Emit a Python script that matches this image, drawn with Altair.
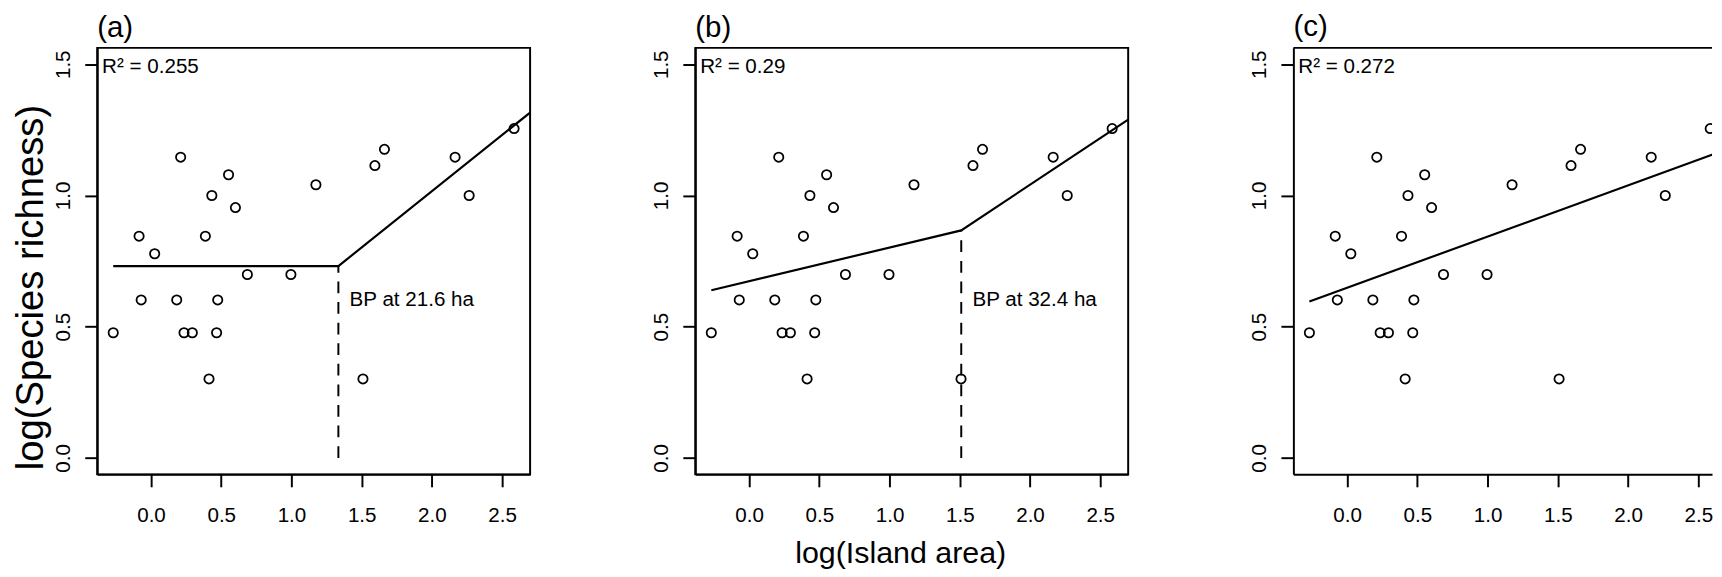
import altair as alt
import pandas as pd

# ---- data ----
log_area = [-0.269, -0.085, -0.070, 0.026, 0.183, 0.211, 0.235, 0.294, 0.387, 0.413,
            0.433, 0.467, 0.475, 0.552, 0.601, 0.686, 0.996, 1.174, 1.509, 1.594,
            1.662, 2.165, 2.265, 2.585]
log_rich = [0.477, 0.845, 0.602, 0.778, 0.602, 1.146, 0.477, 0.477, 0.845, 0.301,
            1.000, 0.477, 0.602, 1.079, 0.954, 0.699, 0.699, 1.041, 0.301, 1.114,
            1.176, 1.146, 1.000, 1.255]

panel_labels = ["(a)", "(b)", "(c)"]
r2_labels = ["R² = 0.255", "R² = 0.29", "R² = 0.272"]

fit_a_x = [-0.269, 1.334, 2.699]
fit_a_y = [0.731, 0.731, 1.316]
fit_b_x = [-0.269, 1.5105, 2.699]
fit_b_y = [0.639, 0.867, 1.289]
fit_c_x = [-0.269, 2.699]
fit_c_y = [0.596, 1.175]

bp_x = [1.334, 1.5105]
bp_fit_y = [0.731, 0.867]
bp_labels = ["BP at 21.6 ha", "BP at 32.4 ha"]
bp_label_x = [1.414, 1.5905]
bp_label_y = [0.6, 0.6]

x_ticks = [0.0, 0.5, 1.0, 1.5, 2.0, 2.5]
y_ticks = [0.0, 0.5, 1.0, 1.5]
x_domain = [-0.383, 2.699]
x_domain_c = [-0.383, 2.598]
y_domain = [-0.0625, 1.5625]

FONT = "Liberation Sans"
W = 441.5
W_C = 427
H = 435


def y_axis(title):
    kw = dict(values=y_ticks, format=".1f", labelAngle=270, labelAlign="center",
              labelBaseline="bottom", labelPadding=12, tickSize=12.7, tickWidth=2,
              tickColor="black", labelFontSize=21, labelFont=FONT, labelColor="black",
              grid=False, domain=True, domainColor="black", domainWidth=2)
    if title:
        kw.update(title=title, titleFontSize=39, titleFont=FONT, titleFontWeight="normal",
                  titleColor="black", titlePadding=2, titleAngle=270, titleBaseline="bottom",
                  titleAlign="center", titleY=244)
    else:
        kw.update(title=None)
    return alt.Axis(**kw)


def x_axis(title):
    kw = dict(values=x_ticks, format=".1f", tickSize=12.7, tickWidth=2, tickColor="black",
              labelFontSize=21, labelFont=FONT, labelColor="black", labelPadding=18,
              grid=False, domain=True, domainColor="black", domainWidth=2)
    if title:
        kw.update(title=title, titleFontSize=31, titleFont=FONT, titleFontWeight="normal",
                  titleColor="black", titlePadding=14, titleX=209, titleBaseline="top")
    else:
        kw.update(title=None)
    return alt.Axis(**kw)


def panel(i, fit_x, fit_y, width, xdom, ytitle=None, xtitle=None, bp=None, last=False):
    xs = alt.Scale(domain=xdom, nice=False, zero=False)
    ys = alt.Scale(domain=y_domain, nice=False, zero=False)
    xa = x_axis(xtitle)
    ya = y_axis(ytitle)
    clip = last

    pts = pd.DataFrame({"x": log_area, "y": log_rich})
    points = alt.Chart(pts).mark_point(shape="circle", filled=False, size=90,
                                       strokeWidth=1.8, color="black", opacity=1,
                                       clip=clip).encode(
        x=alt.X("x:Q", scale=xs, axis=xa),
        y=alt.Y("y:Q", scale=ys, axis=ya),
    )
    fit = pd.DataFrame({"x": fit_x, "y": fit_y})
    line = alt.Chart(fit).mark_line(color="black", strokeWidth=2.2, clip=True).encode(
        x=alt.X("x:Q", scale=xs, axis=xa),
        y=alt.Y("y:Q", scale=ys, axis=ya),
    )
    r2 = alt.Chart(pd.DataFrame({"label": [r2_labels[i]]})).mark_text(
        align="left", baseline="alphabetic", fontSize=21, font=FONT, color="black"
    ).encode(x=alt.value(5), y=alt.value(25.5), text="label:N")

    layers = [points, line]
    if bp is not None:
        dash = pd.DataFrame({"x": [bp_x[bp]], "y0": [0.0], "y1": [bp_fit_y[bp]]})
        rule = alt.Chart(dash).mark_rule(color="black", strokeWidth=2,
                                         strokeDash=[12, 9]).encode(
            x=alt.X("x:Q", scale=xs, axis=xa),
            y=alt.Y("y0:Q", scale=ys, axis=ya),
            y2="y1:Q",
        )
        lab = pd.DataFrame({"x": [bp_label_x[bp]], "y": [bp_label_y[bp]],
                            "label": [bp_labels[bp]]})
        txt = alt.Chart(lab).mark_text(align="left", baseline="middle", fontSize=21,
                                       font=FONT, color="black").encode(
            x=alt.X("x:Q", scale=xs, axis=xa),
            y=alt.Y("y:Q", scale=ys, axis=ya),
            text="label:N",
        )
        layers += [rule, txt]
    if last:
        # frame top edge of the (cut-off) right panel
        top = alt.Chart(pd.DataFrame({"k": [0]})).mark_rule(
            color="black", strokeWidth=2).encode(
            x=alt.value(0), x2=alt.value(width), y=alt.value(0))
        layers.append(top)
    layers.append(r2)

    ch = alt.layer(*layers).properties(
        width=width, height=H,
        title=alt.TitleParams(panel_labels[i], anchor="start", frame="group", fontSize=30,
                              font=FONT, fontWeight="normal", baseline="bottom",
                              offset=-25, color="black"),
    )
    if last:
        ch = ch.properties(view=alt.ViewBackground(stroke="transparent"))
    return ch


pa = panel(0, fit_a_x, fit_a_y, W, x_domain, ytitle="log(Species richness)", bp=0)
pb = panel(1, fit_b_x, fit_b_y, W, x_domain, xtitle="log(Island area)", bp=1)
pc = panel(2, fit_c_x, fit_c_y, W_C, x_domain_c, last=True)

chart = alt.hconcat(pa, pb, pc, spacing=120).properties(
    padding={"left": 3, "top": -2, "right": 0, "bottom": 0},
    background="white",
).configure_view(stroke="black", strokeWidth=2)

chart.save("out.html", embed_options={"renderer": "svg", "actions": False})
